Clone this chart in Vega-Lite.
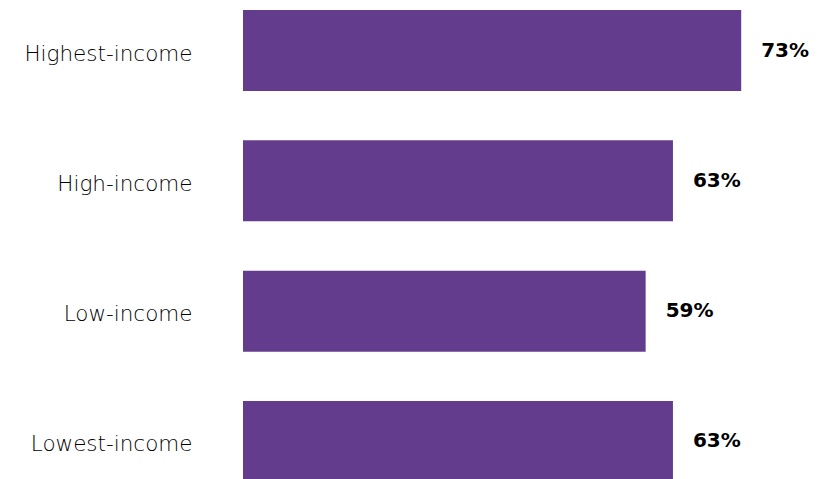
{
  "$schema": "https://vega.github.io/schema/vega-lite/v6.json",
  "autosize": {"type": "none"},
  "padding": {"left": 243, "top": 10, "right": 0, "bottom": 0},
  "width": 576,
  "height": 472,
  "background": "white",
  "config": {"view": {"stroke": null}},
  "data": {"values": [
    {"group": "Highest-income", "value": 0.73},
    {"group": "High-income", "value": 0.63},
    {"group": "Low-income", "value": 0.59},
    {"group": "Lowest-income", "value": 0.63}
  ]},
  "encoding": {
    "y": {"field": "group", "type": "nominal", "sort": null, "title": null,
      "scale": {"paddingInner": 0.378, "paddingOuter": 0},
      "axis": {"domain": false, "ticks": false, "labelPadding": 51, "labelFont": "DejaVu Sans", "labelFontWeight": 200, "labelFontSize": 21.5, "labelColor": "#000", "labelBaseline": "middle", "labelOffset": 4}},
    "x": {"field": "value", "type": "quantitative", "title": null, "axis": null,
      "scale": {"domain": [0, 0.844], "nice": false}}
  },
  "layer": [
    {"mark": {"type": "bar", "color": "#633c8e"}},
    {"mark": {"type": "text", "align": "left", "dx": 20, "dy": 0, "font": "DejaVu Sans", "fontWeight": "bold", "fontSize": 20, "color": "#000"},
      "encoding": {"text": {"field": "value", "type": "quantitative", "format": ".0%"}}}
  ]
}
